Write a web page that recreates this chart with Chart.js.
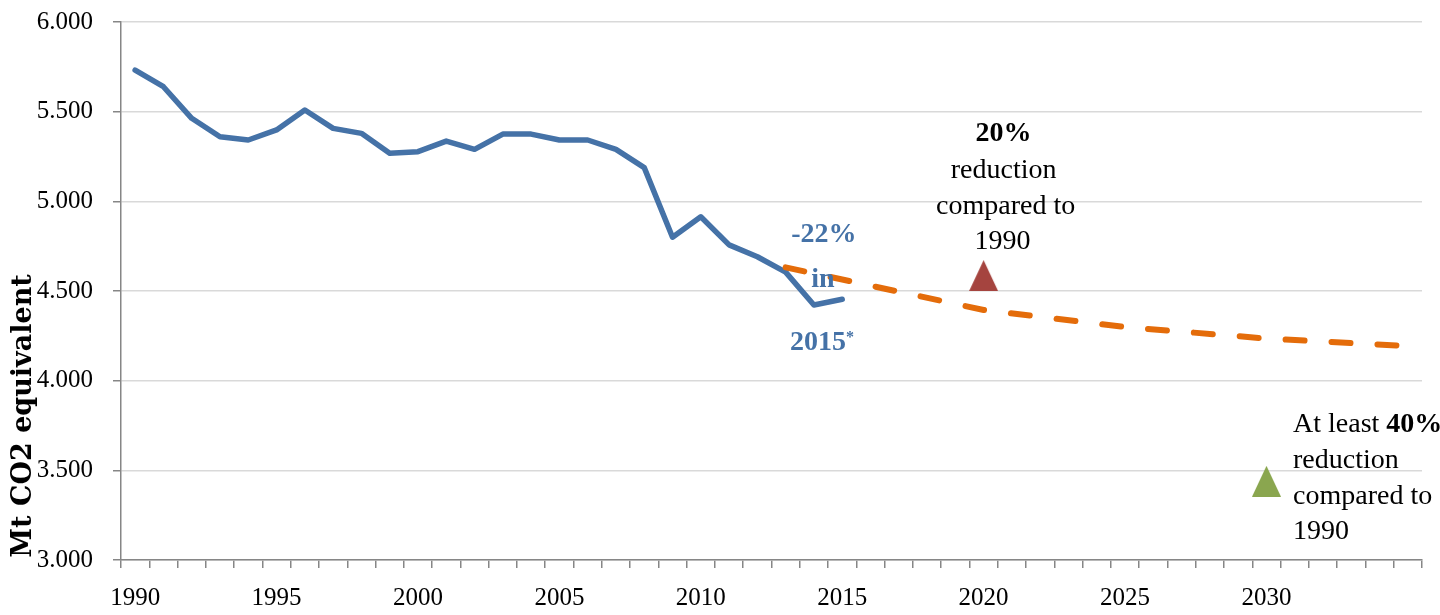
<!DOCTYPE html>
<html>
<head>
<meta charset="utf-8">
<script src="https://cdn.jsdelivr.net/npm/chart.js@4.4.1/dist/chart.umd.min.js"></script>
<style>
  html, body { margin: 0; padding: 0; background: #ffffff; }
  #wrap { width: 1440px; height: 615px; position: relative; }
</style>
</head>
<body>
<div id="wrap"><canvas id="chart"></canvas></div>
<script>
// Emisiones históricas y proyección (Mt CO2 equivalente)

const years = [];
for (let y = 1990; y <= 2035; y++) years.push(String(y));

const historico = [5732, 5639, 5463, 5360, 5342, 5398, 5509, 5407, 5379, 5268,
                   5277, 5336, 5290, 5375, 5375, 5342, 5342, 5290, 5188, 4800,
                   4914, 4757, 4691, 4605, 4422, 4454];

const proyeccionAnios = ['2013', '2020', '2025', '2030', '2035'];
const proyeccionValores = [4632, 4394, 4299, 4235, 4193];

const objetivo2020 = 4586;   // -20% respecto a 1990
const objetivo2030 = 3439;   // -40% respecto a 1990

const yTicks = [3000, 3500, 4000, 4500, 5000, 5500, 6000];

const COLOR_AZUL = '#4572a7';
const COLOR_NARANJA = '#e46c0a';
const SERIF = '"Liberation Serif", "Times New Roman", serif';

// Triángulo como canvas para usarlo de pointStyle
function crearTriangulo(color, w, h) {
  const c = document.createElement('canvas');
  c.width = w;
  c.height = h;
  const ctx = c.getContext('2d');
  ctx.fillStyle = color;
  ctx.beginPath();
  ctx.moveTo(w / 2, 0);
  ctx.lineTo(w, h);
  ctx.lineTo(0, h);
  ctx.closePath();
  ctx.fill();
  return c;
}

const trianguloRojo = crearTriangulo('#a5443f', 29, 31);
const trianguloVerde = crearTriangulo('#8aa64f', 29, 31);

// Plugin para textos sobre el gráfico
const anotaciones = {
  id: 'anotaciones',
  afterDraw(chart) {
    const ctx = chart.ctx;
    const x = chart.scales.x;
    ctx.save();

    // Título del eje Y
    ctx.save();
    ctx.translate(24, 416);
    ctx.rotate(-Math.PI / 2);
    ctx.font = 'bold 27px "DejaVu Serif", serif';
    ctx.fillStyle = '#000';
    ctx.textAlign = 'center';
    ctx.textBaseline = 'middle';
    ctx.fillText('Mt CO2 equivalent', 0, 0);
    ctx.restore();

    // -22% in 2015*
    const x2014 = x.getPixelForValue(years.indexOf('2014'));
    ctx.fillStyle = COLOR_AZUL;
    ctx.font = 'bold 28px ' + SERIF;
    ctx.textAlign = 'center';
    ctx.textBaseline = 'alphabetic';
    ctx.fillText('-22%', x2014 + 10, 242);
    ctx.fillText('in', x2014 + 9, 287);
    ctx.textAlign = 'left';
    ctx.fillText('2015', 790, 350);
    ctx.font = 'bold 16px ' + SERIF;
    ctx.fillText('*', 846, 342);

    // 20% reduction compared to 1990
    const x2020 = x.getPixelForValue(years.indexOf('2020'));
    ctx.fillStyle = '#000';
    ctx.textAlign = 'center';
    ctx.font = 'bold 28px ' + SERIF;
    ctx.fillText('20%', x2020 + 20, 141);
    ctx.font = '28px ' + SERIF;
    ctx.fillText('reduction', x2020 + 20, 178);
    ctx.fillText('compared to', x2020 + 22, 214);
    ctx.fillText('1990', x2020 + 19, 249);

    // At least 40% reduction compared to 1990
    const xt = 1293;
    ctx.textAlign = 'left';
    ctx.font = '28px ' + SERIF;
    const pre = 'At least ';
    ctx.fillText(pre, xt, 432);
    const w = ctx.measureText(pre).width;
    ctx.font = 'bold 28px ' + SERIF;
    ctx.fillText('40%', xt + w, 432);
    ctx.font = '28px ' + SERIF;
    ctx.fillText('reduction', xt, 468);
    ctx.fillText('compared to', xt, 504);
    ctx.fillText('1990', xt, 539);

    ctx.restore();
  }
};

const ctx = document.getElementById('chart').getContext('2d');
new Chart(ctx, {
  type: 'line',
  data: {
    labels: years,
    datasets: [
      {
        label: 'Objetivo 2020',
        data: [{ x: '2020', y: objetivo2020 }],
        showLine: false,
        pointStyle: trianguloRojo,
        pointRadius: 15,
        order: 0
      },
      {
        label: 'Objetivo 2030',
        data: [{ x: '2030', y: objetivo2030 }],
        showLine: false,
        pointStyle: trianguloVerde,
        pointRadius: 15,
        order: 0
      },
      {
        label: 'Proyección',
        data: proyeccionAnios.map((a, i) => ({ x: a, y: proyeccionValores[i] })),
        borderColor: COLOR_NARANJA,
        borderWidth: 6,
        borderDash: [19, 27],
        borderCapStyle: 'round',
        pointRadius: 0,
        tension: 0,
        fill: false,
        order: 1
      },
      {
        label: 'Histórico',
        data: historico,
        borderColor: COLOR_AZUL,
        borderWidth: 5.5,
        borderCapStyle: 'round',
        borderJoinStyle: 'round',
        pointRadius: 0,
        tension: 0,
        fill: false,
        order: 2
      }
    ]
  },
  options: {
    responsive: true,
    maintainAspectRatio: false,
    animation: false,
    layout: { padding: { left: 0, top: 22, right: 18, bottom: 0 } },
    plugins: {
      legend: { display: false },
      tooltip: { enabled: false }
    },
    scales: {
      x: {
        type: 'category',
        offset: true,
        grid: {
          offset: true,
          drawOnChartArea: false,
          tickLength: 8,
          tickColor: '#868686',
          lineWidth: 1.5
        },
        border: { color: '#868686', width: 1.5 },
        ticks: {
          autoSkip: false,
          maxRotation: 0,
          padding: 15,
          color: '#000',
          font: { family: SERIF, size: 25 },
          callback: function (value) {
            const y = Number(this.getLabelForValue(value));
            return (y % 5 === 0 && y <= 2030) ? String(y) : '';
          }
        },
        afterFit(scale) { scale.height = 55; }
      },
      y: {
        min: 3000,
        max: 6000,
        afterBuildTicks(scale) { scale.ticks = yTicks.map(v => ({ value: v })); },
        grid: {
          color: '#d9d9d9',
          lineWidth: 1.5,
          tickLength: 8,
          tickColor: '#868686'
        },
        border: { color: '#868686', width: 1.5 },
        ticks: {
          padding: 20,
          color: '#000',
          font: { family: SERIF, size: 25 },
          callback: v => v.toLocaleString('de-DE')
        },
        afterFit(scale) {
          scale.width = 121;
          scale.paddingTop = 0;
          scale.paddingBottom = 0;
        }
      }
    }
  },
  plugins: [anotaciones]
});
</script>
</body>
</html>
